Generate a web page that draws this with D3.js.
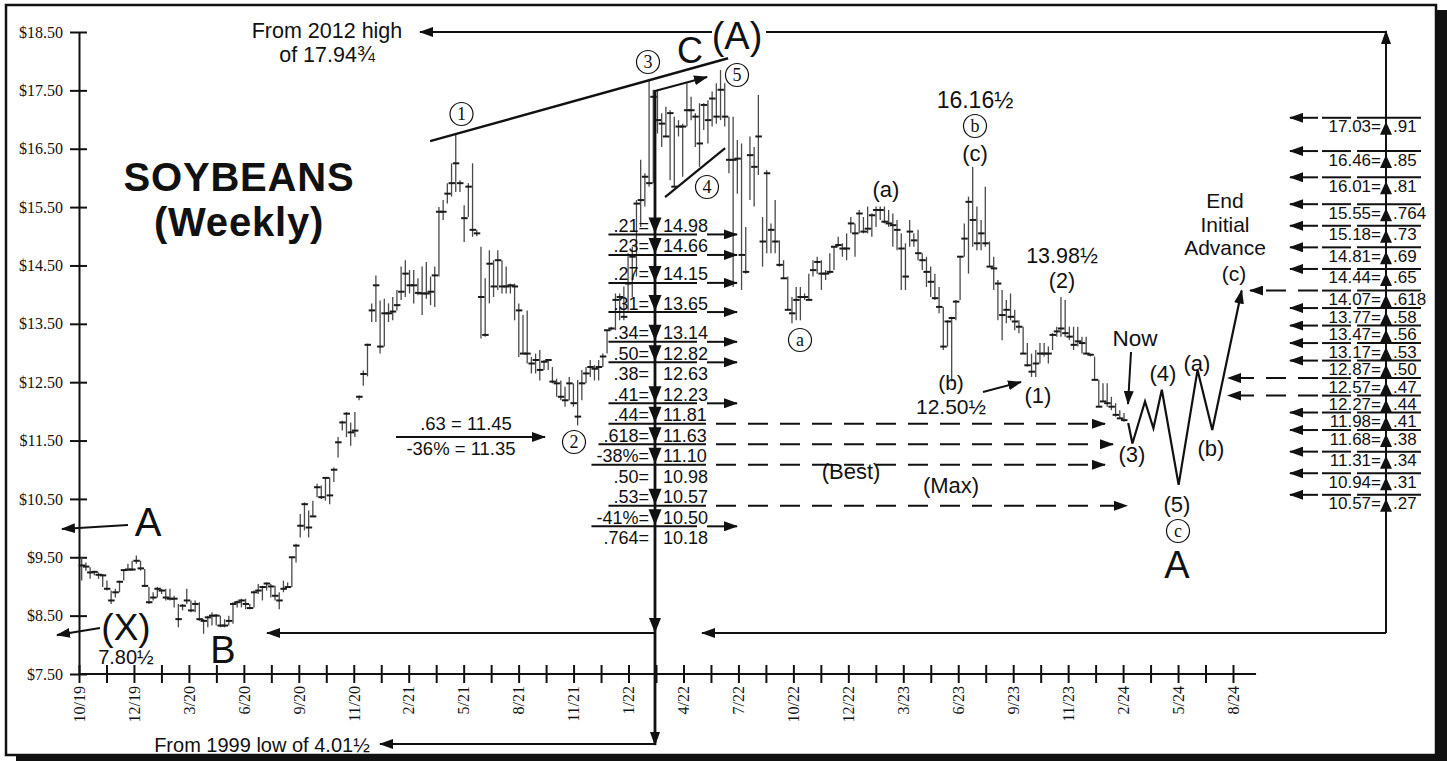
<!DOCTYPE html>
<html>
<head>
<meta charset="utf-8">
<script src="https://cdn.jsdelivr.net/npm/d3@7"></script>
<style>
  body { margin: 0; background: #fff; }
</style>
</head>
<body>
<svg id="chart" width="1447" height="761"></svg>
<script>
// Weekly soybean bars (high, low, close)
var weekHigh = [
  9.5, 9.41, 9.33, 9.27, 9.24, 9.21, 9.1, 8.93, 8.96, 9.1,
  9.3, 9.39, 9.44, 9.53, 9.44, 9.3, 8.99, 8.9, 8.99, 8.96,
  8.96, 8.96, 8.84, 8.7, 8.7, 8.96, 8.76, 8.76, 8.73, 8.44,
  8.5, 8.56, 8.53, 8.5, 8.44, 8.5, 8.73, 8.76, 8.79, 8.79,
  8.7, 8.93, 9.04, 9.01, 9.07, 9.04, 9.01, 8.9, 9.1, 9.07,
  9.5, 9.73, 10.24, 10.44, 10.3, 10.47, 10.76, 10.73, 10.87, 10.87,
  11.04, 11.56, 11.84, 11.99, 11.81, 11.99, 12.27, 12.7,
  13.16, 13.85, 14.33, 13.9, 13.93, 13.85, 13.96, 14.08, 14.48, 14.59,
  14.42, 14.42, 14.28, 14.48, 14.56, 14.31, 14.48, 15.5, 15.62, 15.91,
  16.25, 16.76, 15.96, 15.53, 15.91, 16.25, 15.11, 14.82, 14.28, 14.76, 14.59,
  14.76, 14.59, 14.48, 14.19, 14.19, 13.85, 13.65, 13.73, 12.93, 12.99,
  13.05, 12.88, 12.88, 12.76, 12.56, 12.53, 12.42, 12.59, 12.48, 12.54,
  12.71, 12.76, 12.88, 12.79, 12.88, 12.99, 13.39, 13.45, 14.02, 14.02,
  14.14, 14.71, 14.82, 15.62, 16.31, 16.08, 17.68, 17.51, 17.51, 17.11,
  17.22, 17.16, 17.05, 16.99, 16.93, 17.62, 17.39, 17.11, 17.28, 17.28,
  17.33, 17.48, 17.62, 17.85, 17.62, 17.05,
  17.05, 16.65, 16.59, 15.16, 16.71, 16.53, 17.42, 15.33, 16.13, 15.22,
  15.62, 14.93, 14.59, 14.31, 13.96, 14.13, 14.13, 14.02, 14.36, 14.59,
  14.65, 14.59, 14.42, 14.71, 14.82, 14.99, 14.88, 15.05, 15.33, 15.22,
  15.45, 15.33, 15.51, 15.39, 15.51, 15.51, 15.51, 15.45, 15.39, 15.28,
  15.05, 14.88, 15.28, 15.05, 15.11, 14.71, 14.65, 14.48, 14.36, 14.13,
  13.79, 13.56, 13.62, 13.91, 14.65, 15.22, 15.68, 16.19, 15.51, 15.28,
  15.85, 14.91, 14.65, 14.25, 14.08, 13.91, 14.02, 13.74, 13.56, 13.45,
  13.17, 12.99, 13.05, 13.17, 13.17, 13.11, 13.34, 13.45, 13.96, 13.91,
  13.45, 13.45, 13.45, 13.28, 13.28, 12.99, 12.94, 12.54, 12.48, 12.48,
  12.25, 12.14, 12.02, 11.97
];
var weekLow = [
  9.1, 9.27, 9.13, 9.19, 9.13, 8.99, 8.93, 8.7, 8.81, 8.9,
  9.1, 9.27, 9.27, 9.39, 9.27, 8.99, 8.7, 8.76, 8.81, 8.87,
  8.76, 8.76, 8.64, 8.3, 8.59, 8.7, 8.56, 8.56, 8.41, 8.19,
  8.3, 8.33, 8.33, 8.3, 8.3, 8.33, 8.36, 8.64, 8.64, 8.61,
  8.61, 8.64, 8.87, 8.76, 8.93, 8.81, 8.76, 8.61, 8.9, 8.99,
  8.99, 9.41, 9.84, 9.96, 9.84, 10.19, 10.53, 10.5, 10.47, 10.41,
  10.79, 11.21, 11.67, 11.56, 11.41, 11.56, 12.19, 12.44,
  12.6, 13.53, 13.53, 12.99, 13.11, 13.53, 13.56, 13.73, 13.91, 13.96,
  14.02, 13.85, 13.99, 13.65, 13.93, 13.82, 13.79, 14.31, 15.28, 15.56,
  15.68, 15.76, 15.76, 14.9, 15.33, 14.99, 15.0, 13.25, 13.28, 13.85, 13.96,
  14.08, 14.02, 14.02, 14.02, 13.56, 12.93, 12.99, 12.82, 12.65, 12.65,
  12.53, 12.71, 12.71, 12.48, 12.25, 12.19, 12.08, 12.19, 12.08, 11.76,
  12.19, 12.48, 12.59, 12.53, 12.53, 12.76, 12.99, 13.39, 13.39, 13.56,
  13.56, 13.73, 13.96, 14.31, 15.16, 15.51, 15.85, 15.91, 16.76, 16.53,
  16.71, 15.96, 15.85, 16.71, 16.02, 16.88, 16.99, 16.53, 16.19, 16.82,
  16.59, 16.88, 16.93, 16.99, 16.88, 16.08,
  14.13, 15.73, 14.08, 14.36, 15.62, 15.51, 16.05, 14.48, 14.71, 14.71,
  14.71, 14.48, 14.28, 13.74, 13.51, 13.56, 13.56, 13.91, 13.91, 14.31,
  14.36, 14.08, 14.25, 14.36, 14.42, 14.82, 14.65, 14.59, 15.05, 14.65,
  15.05, 15.05, 15.05, 14.99, 15.16, 15.28, 15.22, 15.16, 14.82, 14.76,
  14.08, 14.08, 14.82, 14.82, 14.59, 14.42, 14.13, 13.96, 13.91, 13.68,
  13.05, 13.11, 12.51, 13.56, 13.91, 14.65, 14.36, 14.82, 14.76, 14.76,
  14.82, 14.48, 14.08, 13.56, 13.22, 13.51, 13.56, 13.39, 13.34, 12.99,
  12.77, 12.59, 12.59, 12.82, 12.94, 12.82, 13.05, 13.28, 13.28, 13.28,
  13.22, 13.05, 13.11, 12.99, 12.99, 12.94, 12.54, 12.08, 12.17, 12.08,
  12.02, 11.91, 11.88, 11.82
];
var weekClose = [
  9.36, 9.34, 9.24, 9.25, 9.2, 9.19, 8.96, 8.76, 8.9, 9.08,
  9.28, 9.29, 9.29, 9.44, 9.31, 9.01, 8.73, 8.81, 8.96, 8.93,
  8.81, 8.79, 8.79, 8.44, 8.67, 8.76, 8.59, 8.7, 8.44, 8.41,
  8.47, 8.5, 8.5, 8.33, 8.33, 8.41, 8.7, 8.73, 8.76, 8.7,
  8.63, 8.9, 8.93, 8.99, 9.05, 9.0, 8.84, 8.76, 8.96, 8.99,
  9.5, 9.7, 10.04, 10.41, 10.01, 10.2, 10.7, 10.53, 10.86, 10.56,
  11.0, 11.47, 11.81, 11.96, 11.64, 11.67, 12.25, 12.64,
  13.14, 13.73, 14.16, 13.11, 13.68, 13.68, 13.71, 13.82, 14.05, 14.36,
  14.16, 14.16, 14.03, 14.02, 14.02, 14.05, 14.33, 15.42, 15.42, 15.73,
  15.91, 16.25, 15.91, 15.31, 15.85, 15.11, 15.05, 13.96, 13.31, 14.53, 14.14,
  14.59, 14.14, 14.14, 14.16, 14.14, 13.73, 12.99, 12.99, 12.82, 12.88,
  12.71, 12.85, 12.88, 12.51, 12.48, 12.25, 12.19, 12.48, 12.14, 11.91,
  12.48, 12.65, 12.76, 12.73, 12.76, 12.94, 13.39, 13.42, 13.91, 13.96,
  13.62, 14.19, 14.65, 15.56, 15.62, 16.02, 15.91, 17.39, 16.99, 16.93,
  16.71, 17.11, 15.85, 16.88, 16.88, 17.16, 17.16, 17.05, 16.59, 17.25,
  16.99, 17.36, 17.05, 17.51, 17.05, 16.31,
  16.31, 16.33, 14.68, 14.39, 16.39, 16.19, 16.71, 14.91, 16.08, 15.11,
  14.91, 14.51, 14.28, 13.74, 13.68, 13.91, 13.96, 13.96, 13.91, 14.42,
  14.56, 14.36, 14.36, 14.39, 14.82, 14.85, 14.79, 14.79, 15.22, 15.05,
  15.39, 15.08, 15.13, 15.36, 15.45, 15.45, 15.25, 15.22, 15.19, 15.11,
  14.79, 14.31, 15.08, 14.93, 14.71, 14.59, 14.39, 14.22, 13.94, 13.79,
  13.11, 13.54, 13.6, 13.88, 14.65, 14.96, 15.59, 15.28, 14.88, 15.05,
  14.88, 14.48, 14.45, 14.19, 13.65, 13.74, 13.62, 13.54, 13.45, 12.99,
  12.79, 12.68, 12.82, 12.99, 12.99, 12.99, 13.31, 13.37, 13.42, 13.34,
  13.28, 13.14, 13.2, 13.17, 12.99, 12.97, 12.54, 12.08, 12.17, 12.14,
  12.08, 11.94, 11.88, 11.85
];

var yTicks = [7.5, 8.5, 9.5, 10.5, 11.5, 12.5, 13.5, 14.5, 15.5, 16.5, 17.5, 18.5];
var xTickLabels = ['10/19', '', '12/19', '', '3/20', '', '6/20', '', '9/20', '', '11/20', '',
  '2/21', '', '5/21', '', '8/21', '', '11/21', '', '1/22', '', '4/22', '', '7/22', '',
  '10/22', '', '12/22', '', '3/23', '', '6/23', '', '9/23', '', '11/23', '', '2/24', '',
  '5/24', '', '8/24'];

// Downside retracement ladder (centre)
var downRatio = ['.21=', '.23=', '.27=', '.31=', '.34=', '.50=', '.38=', '.41=', '.44=', '.618=', '-38%=', '.50=', '.53=', '-41%=', '.764='];
var downPrice = [14.98, 14.66, 14.15, 13.65, 13.14, 12.82, 12.63, 12.23, 11.81, 11.63, 11.10, 10.98, 10.57, 10.50, 10.18];
var downMark = ['arrow', 'arrow', 'arrow', 'arrow', 'arrow', 'arrow', 'none', 'arrow', 'dash', 'dash', 'dash', 'none', 'dash', 'arrow', 'none'];

// Upside projection ladder (right)
var upPrice = [17.03, 16.46, 16.01, 15.55, 15.18, 14.81, 14.44, 14.07, 13.77, 13.47, 13.17, 12.87, 12.57, 12.27, 11.98, 11.68, 11.31, 10.94, 10.57];
var upRatio = ['.91', '.85', '.81', '.764', '.73', '.69', '.65', '.618', '.58', '.56', '.53', '.50', '.47', '.44', '.41', '.38', '.34', '.31', '.27'];
var upLinked = [14.07, 12.57, 12.27];

// Projected wave path after "Now" (week index, price)
var projWeek = [249, 250, 253, 255, 257, 261, 265.5, 269, 276];
var projPrice = [11.8, 11.45, 12.17, 11.71, 12.37, 10.74, 12.71, 11.68, 14.07];

// Trend lines (week index, price)
var upperTrendWeek = [82.9, 153.8], upperTrendPrice = [16.63, 18.05];
var lowerTrendWeek = [138.8, 153.1], lowerTrendPrice = [15.67, 16.51];
var wave5Week = [136.4, 148.8], wave5Price = [17.49, 17.73];

var SANS = '"Liberation Sans", Arial, Helvetica, sans-serif';
var SERIF = '"Liberation Serif", "Times New Roman", Times, serif';
var INK = '#111';

var svg = d3.select('#chart');
var N = weekHigh.length;

var y = d3.scaleLinear().domain([7.5, 18.5]).range([674, 32]);
var x = d3.scaleLinear().domain([0, N - 1]).range([81.7, 1124]);
var tx = d3.scalePoint().domain(d3.range(xTickLabels.length)).range([79, 1233]);

// arrowhead marker
svg.append('defs').append('marker')
    .attr('id', 'arr')
    .attr('viewBox', '0 -5 14 10')
    .attr('refX', 13)
    .attr('refY', 0)
    .attr('markerWidth', 14)
    .attr('markerHeight', 10)
    .attr('markerUnits', 'userSpaceOnUse')
    .attr('orient', 'auto')
  .append('path')
    .attr('d', 'M0,-5L14,0L0,5Z')
    .attr('fill', INK);

// frame with drop shadow
svg.append('rect').attr('x', 6).attr('y', 5).attr('width', 1430).attr('height', 750)
    .attr('fill', '#fff').attr('stroke', INK).attr('stroke-width', 2.5);
svg.append('rect').attr('x', 1435).attr('y', 10).attr('width', 12).attr('height', 751).attr('fill', INK);
svg.append('rect').attr('x', 16).attr('y', 754).attr('width', 1431).attr('height', 7).attr('fill', INK);

function seg(x1, y1, x2, y2, w, head, dash) {
    var l = svg.append('line')
        .attr('x1', x1).attr('y1', y1).attr('x2', x2).attr('y2', y2)
        .attr('stroke', INK).attr('stroke-width', w || 2);
    if (head) l.attr('marker-end', 'url(#arr)');
    if (dash) l.attr('stroke-dasharray', dash);
    return l;
}

function label(tx0, ty0, txt, size, anchor, family, weight) {
    return svg.append('text')
        .attr('x', tx0).attr('y', ty0)
        .attr('text-anchor', anchor || 'middle')
        .style('font-family', family || SANS)
        .style('font-size', size + 'px')
        .style('font-weight', weight || 'normal')
        .attr('fill', INK)
        .text(txt);
}

// several lines stacked in one text element
function stack(tx0, ty0, lines, size, lh, weight) {
    var t = svg.append('text')
        .attr('x', tx0).attr('y', ty0)
        .attr('text-anchor', 'middle')
        .style('font-family', SANS)
        .style('font-size', size + 'px')
        .style('font-weight', weight || 'normal')
        .attr('fill', INK);
    lines.forEach(function(s, i) {
        var sz = Array.isArray(s) ? s[1] : size;
        t.append('tspan').attr('x', tx0).attr('dy', i ? lh : 0)
            .style('font-size', sz + 'px')
            .text(Array.isArray(s) ? s[0] : s);
    });
    return t;
}

function tri(cx, tipY, dir, w, h) {
    var s = dir === 'down' ? -1 : 1;
    svg.append('path')
        .attr('d', 'M' + cx + ',' + tipY + 'L' + (cx - w / 2) + ',' + (tipY + s * h) + 'L' + (cx + w / 2) + ',' + (tipY + s * h) + 'Z')
        .attr('fill', INK);
}

function circled(cx, cy, txt) {
    svg.append('circle').attr('cx', cx).attr('cy', cy).attr('r', 11.5)
        .attr('fill', '#fff').attr('stroke', INK).attr('stroke-width', 1.2);
    label(cx, cy + 5.5, txt, 18, 'middle', SERIF);
}

// y axis
var yAxis = d3.axisLeft(y).tickValues(yTicks).tickSize(9).tickSizeOuter(0).tickPadding(7)
    .tickFormat(function(d) { return '$' + d.toFixed(2); });
var gy = svg.append('g').attr('transform', 'translate(79,0)').call(yAxis);
gy.select('.domain').attr('stroke', INK).attr('stroke-width', 2);
gy.selectAll('.tick line').attr('x1', 8).attr('stroke', INK).attr('stroke-width', 2);
gy.selectAll('.tick text').style('font-family', SERIF).style('font-size', '16px').attr('fill', INK);

// x axis
var xAxis = d3.axisBottom(tx).tickSize(9).tickSizeOuter(0)
    .tickFormat(function(i) { return xTickLabels[i]; });
var gx = svg.append('g').attr('transform', 'translate(0,674)').call(xAxis);
gx.select('.domain').remove();
gx.append('line').attr('x1', 79).attr('x2', tx(xTickLabels.length - 1) + tx.step() * 0.84)
    .attr('stroke', INK).attr('stroke-width', 2);
gx.selectAll('.tick line').attr('y1', -9).attr('stroke', INK).attr('stroke-width', 2);
gx.selectAll('.tick text')
    .attr('transform', 'rotate(-90)')
    .attr('x', -12).attr('y', 0).attr('dy', '0.33em')
    .style('text-anchor', 'end')
    .style('font-family', SERIF).style('font-size', '16px').attr('fill', INK);

// price bars
var bars = svg.append('g');
bars.selectAll('line.hl').data(d3.range(N)).join('line')
    .attr('class', 'hl')
    .attr('x1', function(i) { return x(i); })
    .attr('x2', function(i) { return x(i); })
    .attr('y1', function(i) { return y(weekHigh[i]); })
    .attr('y2', function(i) { return y(weekLow[i]); })
    .attr('stroke', '#4a4a4a')
    .attr('stroke-width', 1.3);
bars.selectAll('line.cl').data(d3.range(N)).join('line')
    .attr('class', 'cl')
    .attr('x1', function(i) { return x(i) - 3; })
    .attr('x2', function(i) { return x(i) + 3.5; })
    .attr('y1', function(i) { return y(weekClose[i]); })
    .attr('y2', function(i) { return y(weekClose[i]); })
    .attr('stroke', '#1a1a1a')
    .attr('stroke-width', 2);

// trend lines
var line = d3.line().x(function(d) { return x(d[0]); }).y(function(d) { return y(d[1]); });
svg.append('path').attr('d', line(d3.zip(upperTrendWeek, upperTrendPrice)))
    .attr('stroke', INK).attr('stroke-width', 2.4).attr('fill', 'none');
svg.append('path').attr('d', line(d3.zip(lowerTrendWeek, lowerTrendPrice)))
    .attr('stroke', INK).attr('stroke-width', 2.2).attr('fill', 'none');
svg.append('path').attr('d', line(d3.zip(wave5Week, wave5Price)))
    .attr('stroke', INK).attr('stroke-width', 2).attr('fill', 'none').attr('marker-end', 'url(#arr)');

// projected path
svg.append('path').attr('d', line(d3.zip(projWeek, projPrice)))
    .attr('stroke', INK).attr('stroke-width', 2.2).attr('fill', 'none')
    .attr('stroke-linejoin', 'miter').attr('marker-end', 'url(#arr)');

// frame of projection lines
seg(712, 32, 420, 32, 2, true);
seg(766, 32, 1386, 32, 2);
seg(1386, 633, 1386, 31, 2, true);
seg(1386, 633, 702, 633, 2, true);
seg(655, 90, 655, 745, 2.8, true);
seg(655, 633, 267, 633, 2, true);
tri(655, 633, 'down', 12, 15);
seg(655, 744, 380, 744, 2, true);

// centre retracement ladder (rows follow price, nudged apart where they crowd)
var prev = -Infinity;
var rowC = downPrice.map(function(p) { prev = Math.max(y(p) - 12, prev + 20.5); return prev; });
var dashEnd = { '.44=': 1105, '.618=': 1113, '-38%=': 1105, '.53=': 1127 };
downRatio.forEach(function(r, i) {
    var c = rowC[i], ly = c + 9;
    var t = label(649, c + 6.5, r, 18, 'end');
    label(663, c + 6.5, downPrice[i].toFixed(2), 18, 'start');
    if (downMark[i] === 'none') return;
    var bx = t.node().getBBox().x;
    tri(655, ly - 1, 'down', 13, 16);
    if (downMark[i] === 'arrow') {
        seg(bx - 5, ly, 697, ly, 2);
        seg(707, ly, 737, ly, 2, true);
    } else {
        seg(bx - 5, ly, 706, ly, 2);
        seg(716, ly, dashEnd[r], ly, 2, true, '20,12');
    }
});

// right projection ladder
upPrice.forEach(function(p, i) {
    var ly = y(p);
    label(1381, ly + 14.5, p.toFixed(2) + '=', 17, 'end');
    label(1393, ly + 14.5, upRatio[i], 17, 'start');
    tri(1386, ly + 4, 'up', 12, 13);
    seg(1322, ly, 1351, ly, 2);
    seg(1357, ly, 1421, ly, 2);
    if (upLinked.indexOf(p) >= 0) {
        var end = p > 13 ? 1250 : 1228;
        seg(1318, ly, end, ly, 2, true, '20,12');
    } else {
        seg(1318, ly, 1290, ly, 2, true);
    }
});

// .63 / -36% block
label(466, 430, '.63 = 11.45', 18.5);
label(461, 455, '-36% = 11.35', 18.5);
seg(396, 437, 545, 437, 2, true);

// titles and notes
stack(239, 191, ['SOYBEANS', '(Weekly)'], 40, 45, 'bold').style('letter-spacing', '0.8px');
stack(327, 38, ['From 2012 high', 'of 17.94\u00be'], 21.5, 24);
label(262, 752, 'From 1999 low of 4.01\u00bd', 20);
label(737, 49, '(A)', 38);
label(690, 63, 'C', 36);

label(148, 536, 'A', 40);
seg(128, 525, 62, 529, 2, true);
stack(126, 640, [['(X)', 37], ['7.80\u00bd', 20]], 37, 24);
seg(100, 628, 57, 635, 2, true);
label(223, 663, 'B', 38);

circled(461.5, 114, '1');
circled(574, 442, '2');
circled(648, 62, '3');
circled(707, 187, '4');
circled(737, 75, '5');
circled(800, 340, 'a');
circled(975, 126, 'b');
circled(1178, 531, 'c');

label(975, 108, '16.16\u00bd', 23);
label(975, 161, '(c)', 22);
label(886, 197, '(a)', 22);
stack(951, 390, ['(b)', '12.50\u00bd'], 21, 24);
seg(983, 392, 1021, 382, 2, true);
label(1038, 403, '(1)', 22);
stack(1062, 263, ['13.98\u00bd', '(2)'], 21.5, 24.5);
label(1135, 346, 'Now', 22.5);
seg(1131, 352, 1128, 404, 2, true);
label(1132, 462, '(3)', 22);
label(1163, 381, '(4)', 22);
label(1197, 371, '(a)', 22);
label(1211, 456, '(b)', 22);
label(1234, 281, '(c)', 21);
label(1177, 512, '(5)', 22);
label(1177, 578, 'A', 38);
stack(1225, 208, ['End', 'Initial', 'Advance'], 21, 23.5);
label(851, 479, '(Best)', 22);
label(951, 493, '(Max)', 22);
</script>
</body>
</html>
